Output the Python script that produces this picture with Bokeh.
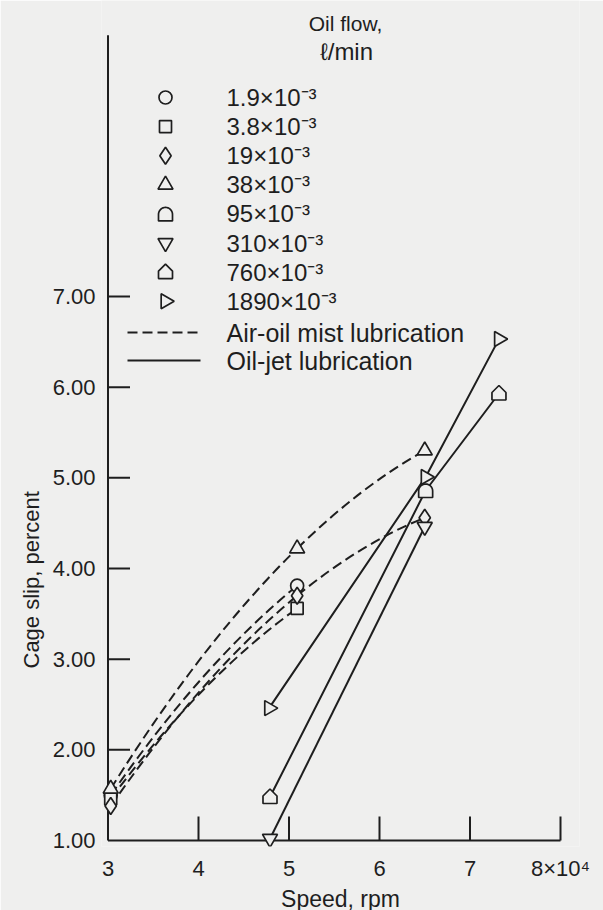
import numpy as np
from bokeh.plotting import figure
from bokeh.models import Range1d, FixedTicker, NumeralTickFormatter, Title
from bokeh.embed import file_html
from bokeh.resources import INLINE
from bokeh.core.properties import value

# ---------------- data ----------------
flow_labels = ["1.9×10⁻³", "3.8×10⁻³", "19×10⁻³", "38×10⁻³",
               "95×10⁻³", "310×10⁻³", "760×10⁻³", "1890×10⁻³"]
flow_markers = ["circle", "square", "diamond", "triangle",
                "dome", "inverted_triangle", "house", "right_triangle"]

# Air-oil mist lubrication (dashed curves); speed in 10^4 rpm, cage slip in percent
mist_1_9_x = [3.03, 5.09]
mist_1_9_y = [1.50, 3.81]
mist_3_8_x = [3.03, 5.09]
mist_3_8_y = [1.46, 3.56]
mist_19_x = [3.03, 5.09, 6.50]
mist_19_y = [1.38, 3.70, 4.56]
mist_38_x = [3.03, 5.09, 6.50]
mist_38_y = [1.57, 4.22, 5.30]

# Oil-jet lubrication (solid lines)
jet_95_x = [6.51]
jet_95_y = [4.86]
jet_310_x = [4.79, 6.50]
jet_310_y = [1.02, 4.46]
jet_760_x = [4.79, 7.32]
jet_760_y = [1.48, 5.93]
jet_1890_x = [4.78, 6.51, 7.32]
jet_1890_y = [2.46, 5.01, 6.53]

x_ticks = [3, 4, 5, 6, 7, 8]
y_ticks = [1, 2, 3, 4, 5, 6, 7]
x_tick_labels = {8: "8×10⁴"}
y_axis_top = 9.88

# ---------------- layout / style ----------------
BG = "#efefee"
INK = "#1e1e1e"
FONT = "Liberation Sans"
W, H = 603, 910
BORDER_L, BORDER_R, BORDER_T, BORDER_B = 101, 24, 0, 64
FRAME_W = W - BORDER_L - BORDER_R
FRAME_H = H - BORDER_T - BORDER_B
PX_X, PX_Y = 90.5, 90.67
X0 = 3 - 6.5 / PX_X
X1 = X0 + FRAME_W / PX_X
Y0 = 1 - 6 / PX_Y
Y1 = Y0 + FRAME_H / PX_Y
FRAME_LEFT = BORDER_L
FRAME_BOTTOM = BORDER_T + FRAME_H


def dx(px):
    return X0 + (px - FRAME_LEFT) / PX_X


def dy(py):
    return Y0 + (FRAME_BOTTOM - py) / PX_Y


p = figure(frame_width=FRAME_W, frame_height=FRAME_H,
           x_range=Range1d(X0, X1), y_range=Range1d(Y0, Y1),
           output_backend="svg", toolbar_location=None,
           min_border_left=BORDER_L, min_border_right=BORDER_R,
           min_border_top=BORDER_T, min_border_bottom=BORDER_B)
p.background_fill_color = BG
p.border_fill_color = BG
p.outline_line_color = None
p.grid.visible = False

for ax in (p.xaxis[0], p.yaxis[0]):
    ax.axis_line_color = None
    ax.major_tick_line_color = None
    ax.minor_tick_line_color = None
    ax.major_tick_out = 0
    ax.major_tick_in = 0
    ax.major_label_text_font = FONT
    ax.major_label_text_font_size = "22px"
    ax.major_label_text_color = INK
p.xaxis[0].ticker = FixedTicker(ticks=x_ticks)
p.xaxis[0].major_label_overrides = x_tick_labels
p.xaxis[0].major_label_standoff = 9
p.yaxis[0].ticker = FixedTicker(ticks=y_ticks)
p.yaxis[0].formatter = NumeralTickFormatter(format="0.00")
p.yaxis[0].major_label_standoff = 6

# axis titles
p.add_layout(Title(text="Speed, rpm", align="center", standoff=0,
                   text_font=FONT, text_font_size="23px", text_font_style="normal",
                   text_color=INK), "below")
# left title: align "left" starts the text at the frame bottom, offset lifts it
p.add_layout(Title(text="Cage slip, percent", align="left", offset=178, standoff=12,
                   text_font=FONT, text_font_size="22px", text_font_style="normal",
                   text_color=INK), "left")

# axis lines and inward ticks
p.segment(x0=[x_ticks[0], x_ticks[0]], y0=[y_ticks[0], y_ticks[0]],
          x1=[x_ticks[-1], x_ticks[0]], y1=[y_ticks[0], y_axis_top],
          line_color=INK, line_width=2)
p.ray(x=x_ticks[1:], y=[y_ticks[0]] * (len(x_ticks) - 1), length=24,
      length_units="screen", angle=np.pi / 2, line_color=INK, line_width=2)
p.ray(x=[x_ticks[0]] * (len(y_ticks) - 1), y=y_ticks[1:], length=22,
      length_units="screen", angle=0, line_color=INK, line_width=2)

LW = 2
DASH = "10 5"


# dashed curves: each series follows a parabola (exact through 3 points);
# two-point series borrow the mean curvature of the three-point ones.
def curvature(xs, ys):
    s1 = (ys[1] - ys[0]) / (xs[1] - xs[0])
    s2 = (ys[2] - ys[1]) / (xs[2] - xs[1])
    return (s2 - s1) / (xs[2] - xs[0])


mist_series = [(mist_1_9_x, mist_1_9_y), (mist_3_8_x, mist_3_8_y),
               (mist_19_x, mist_19_y), (mist_38_x, mist_38_y)]
curv = [curvature(xs, ys) for xs, ys in mist_series if len(xs) == 3]
mean_curv = sum(curv) / len(curv)

for xs, ys in mist_series:
    a = curvature(xs, ys) if len(xs) == 3 else mean_curv
    x0s, y0s, x1s, y1s, cxs, cys = [], [], [], [], [], []
    for i in range(len(xs) - 1):
        d = xs[i + 1] - xs[i]
        x0s.append(xs[i]); y0s.append(ys[i])
        x1s.append(xs[i + 1]); y1s.append(ys[i + 1])
        cxs.append((xs[i] + xs[i + 1]) / 2)
        cys.append((ys[i] + ys[i + 1]) / 2 - a * d * d / 2)
    p.quadratic(x0=x0s, y0=y0s, x1=x1s, y1=y1s, cx=cxs, cy=cys,
                line_color=INK, line_width=LW, line_dash=DASH)

# solid oil-jet lines
line_760 = sorted(zip(jet_760_x + jet_95_x, jet_760_y + jet_95_y))
for xs, ys in [(jet_1890_x, jet_1890_y), (jet_310_x, jet_310_y),
               ([a for a, _ in line_760], [b for _, b in line_760])]:
    p.line(xs, ys, line_color=INK, line_width=LW)


# markers
def shape_patches(kind, xs, ys):
    if kind == "dome":
        t = np.linspace(0, np.pi, 19)
        vx = list(7 * np.cos(t)) + [-7, 7]
        vy = list(7 * np.sin(t) - 0.5) + [-7, -7]
    else:  # house
        vx = [-7, 7, 7, 0, -7]
        vy = [-6.5, -6.5, 1.0, 8.0, 1.0]
    pxs = [[x + v / PX_X for v in vx] for x in xs]
    pys = [[y + v / PX_Y for v in vy] for y in ys]
    p.patches(pxs, pys, fill_color=BG, line_color=INK, line_width=1.7)


SIZES = {"circle": 13, "square": 12, "diamond": 17, "triangle": 15,
         "inverted_triangle": 15, "right_triangle": 15}


def draw_marker(kind, xs, ys):
    if kind in ("dome", "house"):
        shape_patches(kind, xs, ys)
        return
    angle = 0.0
    mk = kind
    if kind == "right_triangle":
        mk, angle = "triangle", -np.pi / 2
    p.scatter(xs, ys, marker=mk, size=SIZES[kind], angle=angle,
              fill_color=BG, line_color=INK, line_width=1.7)


series_points = [(mist_1_9_x, mist_1_9_y), (mist_3_8_x, mist_3_8_y),
                 (mist_19_x, mist_19_y), (mist_38_x, mist_38_y),
                 (jet_95_x, jet_95_y), (jet_310_x, jet_310_y),
                 (jet_760_x, jet_760_y), (jet_1890_x, jet_1890_y)]
for kind, (xs, ys) in zip(flow_markers, series_points):
    draw_marker(kind, xs, ys)

# ---------------- legend ----------------
LEG_MX, LEG_TX = 165, 226
row_y = [97 + 29.1 * i for i in range(len(flow_labels))]
for kind, ry in zip(flow_markers, row_y):
    draw_marker(kind, [dx(LEG_MX)], [dy(ry)])
p.text(x=[dx(LEG_TX)] * len(flow_labels), y=[dy(r) for r in row_y], text=flow_labels,
       text_font=value(FONT), text_font_size="24px", text_color=INK,
       text_baseline="middle", text_align="left")

line_rows = [332, 360]
p.line([dx(127), dx(200)], [dy(line_rows[0])] * 2, line_color=INK, line_width=LW, line_dash=DASH)
p.line([dx(127), dx(200)], [dy(line_rows[1])] * 2, line_color=INK, line_width=LW)
p.text(x=[dx(LEG_TX)] * 2, y=[dy(r) for r in line_rows],
       text=["Air-oil mist lubrication", "Oil-jet lubrication"],
       text_font=value(FONT), text_font_size="25px", text_color=INK,
       text_baseline="middle", text_align="left")

p.text(x=[dx(345)], y=[dy(23)], text=["Oil flow,"],
       text_font=value(FONT), text_font_size="21px", text_color=INK,
       text_baseline="middle", text_align="center")
p.text(x=[dx(346)], y=[dy(51)], text=["ℓ/min"],
       text_font=value(FONT), text_font_size="24px", text_color=INK,
       text_baseline="middle", text_align="center")

open("out.html", "w").write(file_html(p, INLINE))
